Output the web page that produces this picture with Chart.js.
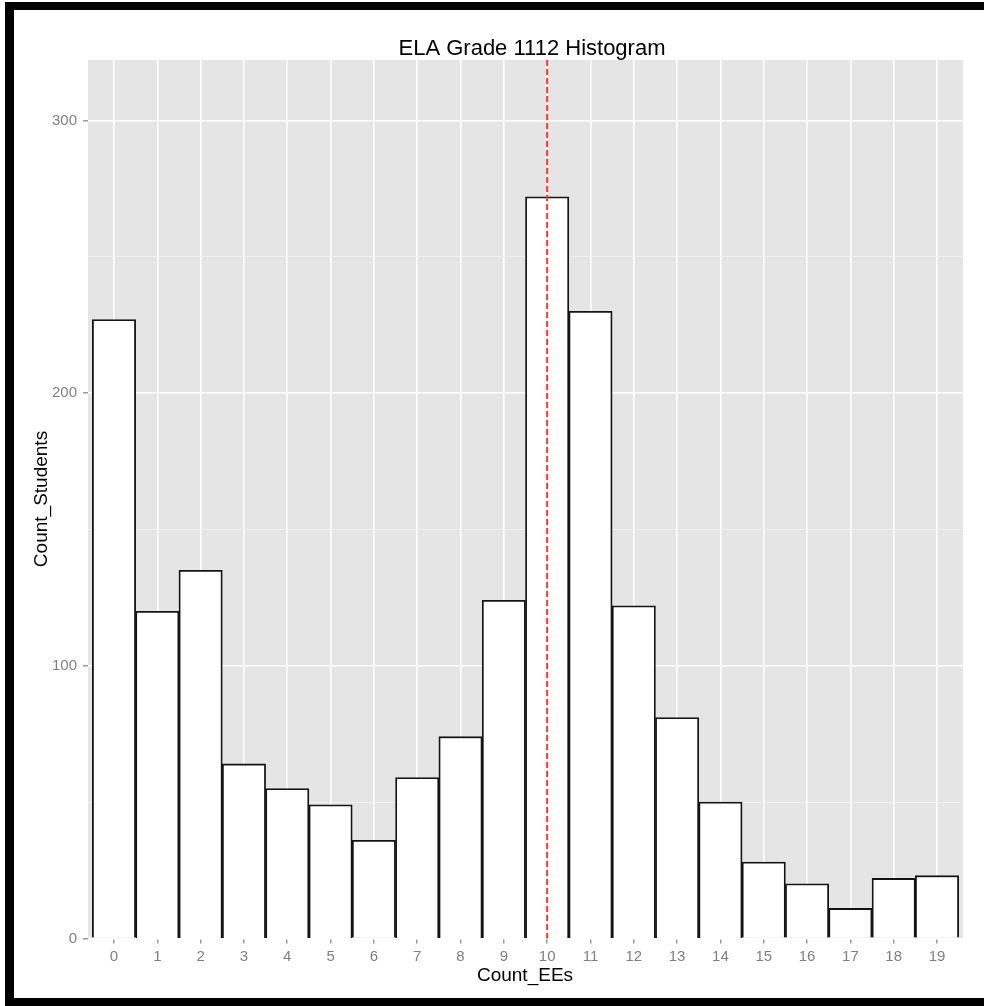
<!DOCTYPE html>
<html>
<head>
<meta charset="utf-8">
<script src="https://cdn.jsdelivr.net/npm/chart.js@4.4.1/dist/chart.umd.min.js"></script>
<style>
  html, body { margin: 0; padding: 0; background: #ffffff; }
  #wrap { position: relative; width: 984px; height: 1006px; overflow: hidden; }
  canvas { position: absolute; left: 0; top: 0; }
  .bd { position: absolute; background: #000; }
</style>
</head>
<body>
<div id="wrap">
  <canvas id="c" width="984" height="1006"></canvas>
  <div class="bd" style="left:5px; top:2px; width:979px; height:8px;"></div>
  <div class="bd" style="left:5px; top:2px; width:9px; height:1004px;"></div>
  <div class="bd" style="left:5px; top:998px; width:979px; height:8px;"></div>
</div>
<script>
// ---- data ----
const categories = [0, 1, 2, 3, 4, 5, 6, 7, 8, 9, 10, 11, 12, 13, 14, 15, 16, 17, 18, 19];
const counts = [227, 120, 135, 64, 55, 49, 36, 59, 74, 124, 272, 230, 122, 81, 50, 28, 20, 11, 22, 23];
const yTickLabels = [0, 100, 200, 300];
const refLineX = 10;
const chartTitle = 'ELA Grade 1112 Histogram';
const xTitle = 'Count_EEs';
const yTitle = 'Count_Students';

const FONT = "'Liberation Sans', Arial, sans-serif";
Chart.defaults.font.family = FONT;

const points = categories.map((c, i) => ({ x: c, y: counts[i] }));

const panelBg = {
  id: 'panelBg',
  beforeDraw(chart) {
    const a = chart.chartArea, ctx = chart.ctx;
    ctx.save();
    ctx.fillStyle = '#E5E5E5';
    ctx.fillRect(a.left, a.top, a.right - a.left, a.bottom - a.top);
    ctx.restore();
  }
};

const refLine = {
  id: 'refLine',
  afterDatasetsDraw(chart) {
    const a = chart.chartArea, ctx = chart.ctx;
    const x = chart.scales.x.getPixelForValue(refLineX);
    ctx.save();
    ctx.strokeStyle = '#FF3333';
    ctx.lineWidth = 2;
    ctx.setLineDash([6, 3]);
    ctx.beginPath();
    ctx.moveTo(x, a.top);
    ctx.lineTo(x, a.bottom);
    ctx.stroke();
    ctx.restore();
  }
};

const texts = {
  id: 'texts',
  afterDraw(chart) {
    const ctx = chart.ctx;
    ctx.save();
    ctx.fillStyle = '#000000';
    ctx.textBaseline = 'alphabetic';
    ctx.textAlign = 'center';
    ctx.font = '22px ' + FONT;
    ctx.fillText(chartTitle, 532, 55);
    ctx.font = '19px ' + FONT;
    ctx.fillText(xTitle, 525, 981);
    ctx.translate(47, 499);
    ctx.rotate(-Math.PI / 2);
    ctx.fillText(yTitle, 0, 0);
    ctx.restore();
  }
};

new Chart(document.getElementById('c'), {
  type: 'bar',
  data: {
    datasets: [{
      data: points,
      backgroundColor: '#FFFFFF',
      borderColor: '#141414',
      borderWidth: 1.8,
      borderSkipped: 'bottom',
      barPercentage: 1,
      categoryPercentage: 1
    }]
  },
  options: {
    responsive: false,
    animation: false,
    devicePixelRatio: 1,
    layout: { padding: { left: 0, top: 60, right: 21, bottom: 0 } },
    plugins: {
      legend: { display: false },
      title: { display: false },
      tooltip: { enabled: false }
    },
    scales: {
      x: {
        type: 'linear',
        min: -0.6,
        max: 19.6,
        offset: false,
        border: { display: false },
        grid: {
          offset: false,
          color: '#FFFFFF',
          lineWidth: 1.6,
          drawTicks: true,
          tickLength: 5,
          tickWidth: 1.2,
          tickColor: '#7F7F7F'
        },
        ticks: {
          stepSize: 1,
          includeBounds: false,
          autoSkip: false,
          maxRotation: 0,
          color: '#7F7F7F',
          font: { size: 15 },
          padding: 4,
          callback: (v) => categories.includes(v) ? String(v) : ''
        },
        afterFit(scale) { scale.height = 67.6; }
      },
      y: {
        type: 'linear',
        min: 0,
        max: 322.2,
        border: { display: false },
        grid: {
          color: (c) => (c.tick && c.tick.value % 100 === 0) ? '#FFFFFF' : '#F2F2F2',
          lineWidth: (c) => (c.tick && c.tick.value % 100 === 0) ? 1.6 : 0.8,
          drawTicks: true,
          tickLength: 5,
          tickWidth: 1.2,
          tickColor: (c) => (c.tick && c.tick.value % 100 === 0) ? '#7F7F7F' : 'rgba(0,0,0,0)'
        },
        ticks: {
          stepSize: 50,
          includeBounds: false,
          color: '#7F7F7F',
          font: { size: 15 },
          padding: 6,
          callback: (v) => yTickLabels.includes(v) ? String(v) : ''
        },
        afterFit(scale) { scale.width = 88; }
      }
    }
  },
  plugins: [panelBg, refLine, texts]
});
</script>
</body>
</html>
